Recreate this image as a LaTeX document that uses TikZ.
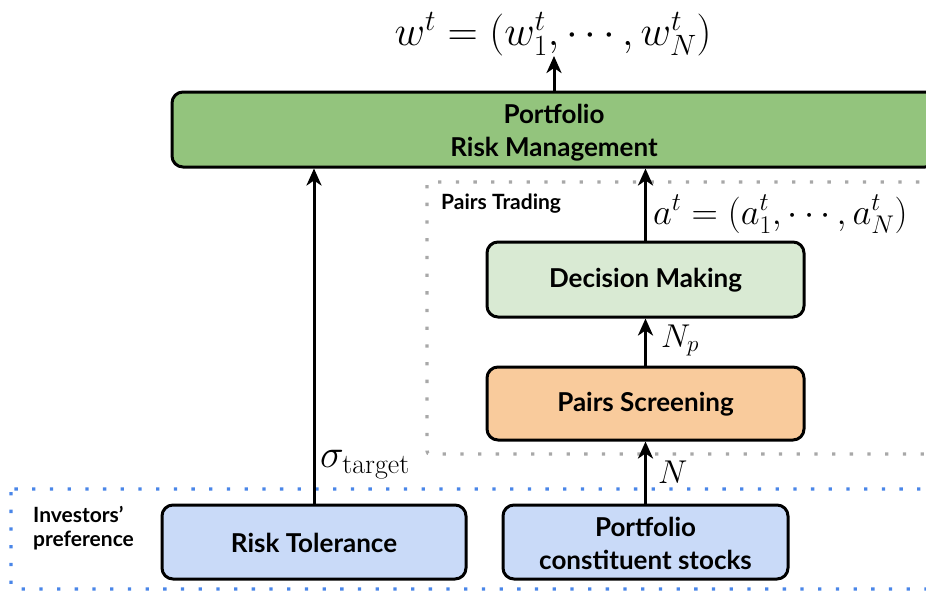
\RequirePackage{fix-cm}
\documentclass[tikz,border=0pt]{standalone}
\usepackage{fontspec}
\newfontfamily\boxfont{Lato}
\usetikzlibrary{arrows.meta}

\definecolor{rmgreen}{HTML}{93C47D}
\definecolor{dmgreen}{HTML}{D9EAD3}
\definecolor{psorange}{HTML}{F9CB9C}
\definecolor{inblue}{HTML}{C9DAF8}
\definecolor{dotblue}{HTML}{4A86E8}
\definecolor{dotgray}{HTML}{A8A8A8}

\begin{document}
\begin{tikzpicture}[x=1pt,y=-1pt,
  stage/.style={draw=black, line width=3pt, rounded corners=11pt,
    align=center, inner sep=0pt,
    font=\boxfont\bfseries\fontsize{26}{33}\selectfont},
  flow/.style={line width=3pt, -{Stealth[length=17pt,width=15pt,inset=5pt]}},
  mathlbl/.style={inner sep=0pt, font=\fontsize{33}{40}\selectfont},
  grouplbl/.style={inner sep=0pt, align=left,
    font=\boxfont\bfseries\fontsize{21}{23.5}\selectfont},
  groupframe/.style={line width=3.3pt, line cap=butt, rounded corners=3pt,
    dash pattern=on 3.3pt off 14.4pt}]

\useasboundingbox (0,0) rectangle (926,594);
\clip (0,0) rectangle (926,594);

% group frames
\draw[groupframe, draw=dotgray] (427,182) rectangle (980,454);
\draw[groupframe, draw=dotblue] (11,489) rectangle (980,589);
\node[grouplbl, anchor=base west] (ptlbl) at (441,209) {Pairs Trading};
\node[grouplbl, anchor=base west] (iplbl) at (33,546) {Investors’\\preference};

% stages
\node[stage, fill=rmgreen, minimum width=764pt, minimum height=75pt]
  (rm) at (554,129.5) {};
\node[stage, fill=dmgreen, minimum width=317pt, minimum height=75pt]
  (dm) at (645.5,279.5) {};
\node[stage, fill=psorange, minimum width=317pt, minimum height=73pt]
  (ps) at (645.5,403.5) {};
\node[stage, fill=inblue, minimum width=304pt, minimum height=74pt]
  (rt) at (314,542) {};
\node[stage, fill=inblue, minimum width=285pt, minimum height=74pt]
  (pc) at (645.5,542) {};

% stage captions, set a little below each box centre
\node[stage, draw=none, fill=none] (rmtxt) at ([yshift=-3pt]rm.center) {Portfolio\\Risk Management};
\node[stage, draw=none, fill=none] (dmtxt) at ([yshift=-1pt]dm.center) {Decision Making};
\node[stage, draw=none, fill=none] (pstxt) at ([yshift=-1pt]ps.center) {Pairs Screening};
\node[stage, draw=none, fill=none] (rttxt) at ([yshift=-1pt]rt.center) {Risk Tolerance};
\node[stage, draw=none, fill=none] (pctxt) at ([yshift=-1pt]pc.center) {Portfolio\\constituent stocks};

% output weights
\node[inner sep=0pt, anchor=south, font=\fontsize{42}{48}\selectfont]
  (wt) at (553,56) {$w^t = (w_1^t, \cdots, w_N^t)$};

% connectors
\draw[flow] (rm.north) -- (rm.north |- wt.south);
\draw[flow] (rt.north) -- (rt.north |- rm.south);
\draw[flow] (dm.north) -- (dm.north |- rm.south);
\draw[flow] (ps.north) -- (dm.south);
\draw[flow] (pc.north) -- (ps.south);

% connector labels
\node[mathlbl, anchor=base west, font=\fontsize{40}{46}\selectfont] (sig) at (320,467) {$\sigma_{\mathrm{target}}$};
\node[mathlbl, anchor=base west, font=\fontsize{36.5}{44}\selectfont] (at) at (653,224) {$a^t = (a_1^t, \cdots, a_N^t)$};
\node[mathlbl, anchor=base west] (np) at (661,347) {$N_p$};
\node[mathlbl, anchor=base west] (nn) at (658,483) {$N$};

\end{tikzpicture}
\end{document}
